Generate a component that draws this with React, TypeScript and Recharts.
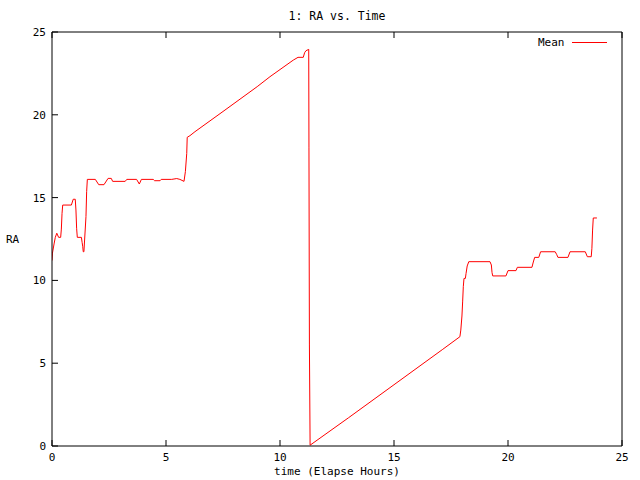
import React from "react";
import { LineChart, Line, XAxis, YAxis, Legend } from "recharts";

// elapsed time (hours) and mean RA
const hours = [
  0.0, 0.02, 0.09, 0.145, 0.21, 0.29, 0.38, 0.41, 0.44, 0.47, 0.85, 0.93, 1.02, 1.05, 1.08, 1.11,
  1.29, 1.32, 1.35, 1.37, 1.4, 1.43, 1.49, 1.52, 1.55, 1.9, 2.05, 2.28, 2.46, 2.6, 2.66, 3.21,
  3.28, 3.71, 3.83, 3.92, 4.44, 4.5, 4.74, 4.79, 5.25, 5.47, 5.61, 5.79, 5.85, 5.91, 5.93, 6.05,
  6.27, 7.5, 9.0, 9.56, 10.58, 10.79, 11.02, 11.08, 11.14, 11.26, 11.27, 11.29, 11.32, 13.0,
  15.0, 17.14, 17.89, 17.93, 17.98, 18.01, 18.04, 18.07, 18.13, 18.16, 18.21, 18.28, 19.21, 19.27,
  19.3, 19.33, 19.91, 20.0, 20.35, 20.41, 21.05, 21.11, 21.17, 21.35, 21.43, 22.07, 22.14, 22.19,
  22.63, 22.72, 23.39, 23.48, 23.65, 23.68, 23.71, 23.74, 23.9,
];
const ra = [
  11.2, 11.65, 12.2, 12.6, 12.85, 12.6, 12.6, 13.1, 14.05, 14.55, 14.55, 14.9, 14.9, 14.25, 13.15, 12.6,
  12.6, 12.3, 12.03, 11.73, 11.73, 12.44, 13.85, 15.36, 16.1, 16.1, 15.78, 15.78, 16.16, 16.16, 15.98, 15.98,
  16.1, 16.1, 15.82, 16.1, 16.1, 16.02, 16.02, 16.1, 16.1, 16.15, 16.1, 15.98, 16.57, 17.67, 18.64, 18.74,
  18.98, 20.2, 21.7, 22.3, 23.3, 23.47, 23.47, 23.75, 23.87, 23.95, 18.0, 6.1, 0.05, 1.7,
  3.7, 5.84, 6.6, 7.0, 7.85, 8.7, 9.62, 10.12, 10.12, 10.42, 10.87, 11.13, 11.13, 10.93,
  10.47, 10.27, 10.27, 10.59, 10.59, 10.79, 10.79, 11.11, 11.39, 11.39, 11.73, 11.73, 11.55, 11.39,
  11.39, 11.73, 11.73, 11.43, 11.43, 11.94, 13.04, 13.77, 13.77,
];
const xTicks = [0, 5, 10, 15, 20, 25];
const yTicks = [0, 5, 10, 15, 20, 25];

const data = hours.map((h, i) => ({ time: h, mean: ra[i] }));

const font = "'DejaVu Sans Mono', monospace";
const TL = 6; // inward tick length, gnuplot style

function BottomTick({ x, y, payload }: any) {
  return (
    <g>
      <line x1={x} y1={y} x2={x} y2={y - TL} stroke="#000" />
      <text x={x} y={y + 15} textAnchor="middle" fontSize={11} fontFamily={font} fill="#000">
        {payload.value}
      </text>
    </g>
  );
}
function TopTick({ x, y }: any) {
  return <line x1={x} y1={y} x2={x} y2={y + TL} stroke="#000" />;
}
function LeftTick({ x, y, payload }: any) {
  return (
    <g>
      <line x1={x} y1={y} x2={x + TL} y2={y} stroke="#000" />
      <text x={x - 6} y={y + 4} textAnchor="end" fontSize={11} fontFamily={font} fill="#000">
        {payload.value}
      </text>
    </g>
  );
}
function RightTick({ x, y }: any) {
  return <line x1={x} y1={y} x2={x - TL} y2={y} stroke="#000" />;
}

function LegendBox() {
  return (
    <div style={{ display: "flex", alignItems: "center", fontFamily: font, fontSize: 11 }}>
      <span>Mean</span>
      <span style={{ display: "inline-block", width: 35, borderTop: "1px solid #ff0000", marginLeft: 7 }} />
    </div>
  );
}

export default function App() {
  return (
    <div style={{ position: "absolute", left: 0, top: 0, width: 640, height: 480, background: "#fff" }}>
      <div style={{ position: "absolute", top: 9, left: 0, width: 674, textAlign: "center", fontFamily: font, fontSize: 11.5 }}>
        1: RA vs. Time
      </div>
      <div style={{ position: "absolute", top: 233, left: 6, fontFamily: font, fontSize: 11 }}>RA</div>
      <div style={{ position: "absolute", top: 465, left: 0, width: 674, textAlign: "center", fontFamily: font, fontSize: 11 }}>
        time (Elapse Hours)
      </div>
      <LineChart width={640} height={480} data={data} margin={{ top: 31, right: 17, left: 0, bottom: 0 }}>
        <XAxis
          dataKey="time"
          type="number"
          domain={[0, 25]}
          ticks={xTicks}
          height={34}
          tickSize={0}
          tickMargin={0}
          tickLine={false}
          tick={BottomTick}
          stroke="#000"
          allowDataOverflow
        />
        <XAxis
          xAxisId="top"
          orientation="top"
          dataKey="time"
          type="number"
          domain={[0, 25]}
          ticks={xTicks}
          height={1}
          tickSize={0}
          tickMargin={0}
          tickLine={false}
          tick={TopTick}
          stroke="#000"
        />
        <YAxis
          type="number"
          domain={[0, 25]}
          ticks={yTicks}
          width={52}
          tickSize={0}
          tickMargin={0}
          tickLine={false}
          tick={LeftTick}
          stroke="#000"
          allowDataOverflow
        />
        <YAxis
          yAxisId="right"
          orientation="right"
          type="number"
          domain={[0, 25]}
          ticks={yTicks}
          width={1}
          tickSize={0}
          tickMargin={0}
          tickLine={false}
          tick={RightTick}
          stroke="#000"
        />
        <Legend
          layout="vertical"
          align="center"
          verticalAlign="middle"
          content={LegendBox}
          wrapperStyle={{ position: "absolute", top: 36, left: 538, width: "auto" }}
        />
        <Line
          type="linear"
          dataKey="mean"
          stroke="#ff0000"
          strokeWidth={1}
          dot={false}
          isAnimationActive={false}
        />
      </LineChart>
    </div>
  );
}
